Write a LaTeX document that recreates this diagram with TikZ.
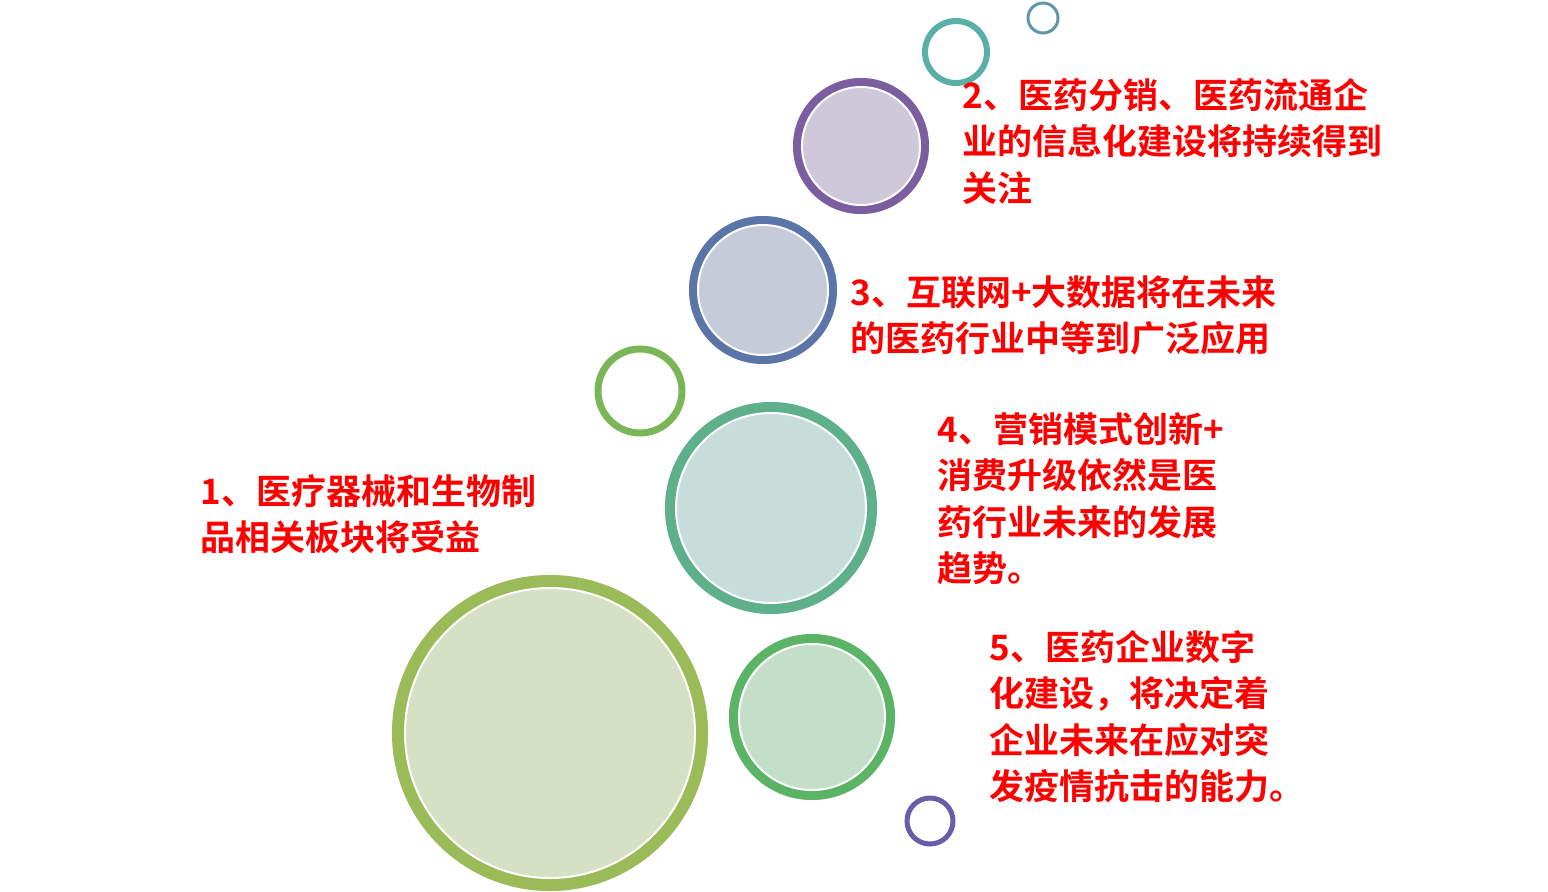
\documentclass[tikz,border=0pt]{standalone}
\usepackage{fontspec}
\newfontfamily\cjk{Noto Sans CJK SC}[BoldFont={Noto Sans CJK SC Bold}]
\begin{document}
\begin{tikzpicture}[x=0.5pt,y=-0.5pt,
  lbl/.style={anchor=north west,inner sep=0,align=left,text=red,font=\cjk\bfseries\fontsize{17.5}{23.2}\selectfont},
  bub/.style={line width=#1},
]
\useasboundingbox (0,0) rectangle (1548,891);
\def\bubble#1#2#3#4#5#6{%
  \fill[#5] (#1,#2) circle[radius=#3*0.5pt];
  \draw[#4,line width=#6*0.5pt] (#1,#2) circle[radius=#3*0.5pt-#6*0.25pt];
  \draw[white,line width=1pt] (#1,#2) circle[radius=#3*0.5pt-#6*0.5pt];}
\definecolor{r1}{HTML}{9BBB59}\definecolor{f1}{HTML}{D6E0C4}
\definecolor{r4}{HTML}{5DB08A}\definecolor{f4}{HTML}{C6DDDA}
\definecolor{r5}{HTML}{5BB466}\definecolor{f5}{HTML}{C3DFCA}
\definecolor{r3}{HTML}{5C75A8}\definecolor{f3}{HTML}{C5CBD9}
\definecolor{r2}{HTML}{7B5EA0}\definecolor{f2}{HTML}{CFC8DA}
\bubble{550}{733}{158}{r1}{f1}{13}
\bubble{771}{508}{106}{r4}{f4}{11}
\bubble{812}{717}{83}{r5}{f5}{10}
\bubble{763}{290}{74}{r3}{f3}{9}
\bubble{861}{146}{68}{r2}{f2}{9}
\draw[color={rgb,255:red,122;green,182;blue,87},line width=3.5pt] (640,391) coordinate (s1) circle[radius=21pt];
\draw[color={rgb,255:red,91;green,176;blue,165},line width=3pt] (956,52) coordinate (s2) circle[radius=15.5pt];
\draw[color={rgb,255:red,95;green,151;blue,168},line width=1.5pt] (1043,18) coordinate (s3) circle[radius=7.5pt];
\draw[color={rgb,255:red,106;green,92;blue,168},line width=2.5pt] (930,821) coordinate (s4) circle[radius=11.5pt];
\node[lbl] (t1) at (200,474) {1、医疗器械和生物制\\品相关板块将受益};
\node[lbl] (t2) at (962,78) {2、医药分销、医药流通企\\业的信息化建设将持续得到\\关注};
\node[lbl] (t3) at (850,275) {3、互联网+大数据将在未来\\的医药行业中等到广泛应用};
\node[lbl] (t4) at (937,412) {4、营销模式创新+\\消费升级依然是医\\药行业未来的发展\\趋势。};
\node[lbl] (t5) at (989,630) {5、医药企业数字\\化建设，将决定着\\企业未来在应对突\\发疫情抗击的能力。};
\end{tikzpicture}
\end{document}
